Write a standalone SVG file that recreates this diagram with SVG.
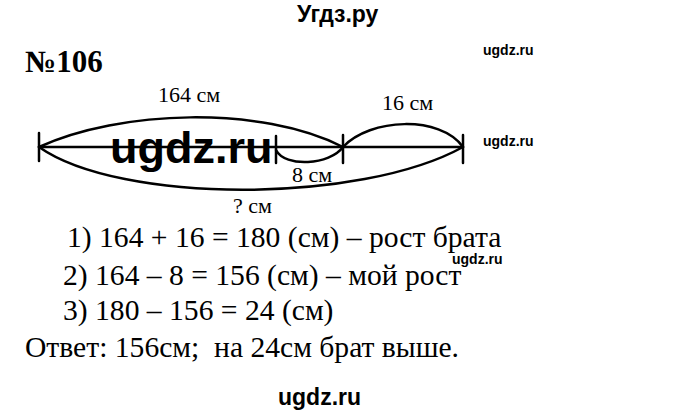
<svg xmlns="http://www.w3.org/2000/svg" width="680" height="419" viewBox="0 0 680 419">
<style>
.ser{font-family:"Liberation Serif","Times New Roman",serif;fill:#000}
.lab{font-size:22px}
.sol{font-size:29.6px}
.wm{font-family:"Liberation Sans",Arial,sans-serif;font-weight:bold;fill:#000}
.ln{fill:none;stroke:#000;stroke-width:2.5;stroke-linecap:round}
</style>
<rect width="680" height="419" fill="#fff"/>
<text class="wm" x="297" y="22" font-size="23">Угдз.ру</text>
<text class="ser" x="25" y="72" font-size="31" font-weight="bold">№106</text>
<text class="wm" x="483" y="55" font-size="14" font-weight="normal">ugdz.ru</text>
<text class="wm" x="483" y="146" font-size="14" font-weight="normal">ugdz.ru</text>
<g id="diagram">
<path class="ln" d="M39 147 H463"/>
<path class="ln" d="M39 133 V161 M276 136 V163 M343 135 V163 M463 135 V163"/>
<path class="ln" d="M39 147 C120 110 260 105 343 147"/>
<path class="ln" d="M39 147 C120 204 360 204 463 147"/>
<path class="ln" d="M276 150 C285 168 330 165 343 147"/>
<path class="ln" d="M343 147 C370 118 440 115 463 147"/>
<text class="ser lab" x="158" y="102">164 см</text>
<text class="ser lab" x="382" y="110">16 см</text>
<text class="ser lab" x="292" y="182">8 см</text>
<text class="ser lab" x="233" y="213">? см</text>
</g>
<text class="wm" x="110" y="163" font-size="45">ugdz.ru</text>
<text class="ser sol" x="67" y="247">1) 164 + 16 = 180 (см) – рост брата</text>
<text class="ser sol" x="63" y="285">2) 164 – 8 = 156 (см) – мой рост</text>
<text class="ser sol" x="63" y="320">3) 180 – 156 = 24 (см)</text>
<text class="ser sol" x="25" y="357" xml:space="preserve">Ответ: 156см;  на 24см брат выше.</text>
<text class="wm" x="452" y="264" font-size="14">ugdz.ru</text>
<text class="wm" x="278" y="405" font-size="23">ugdz.ru</text>
</svg>
